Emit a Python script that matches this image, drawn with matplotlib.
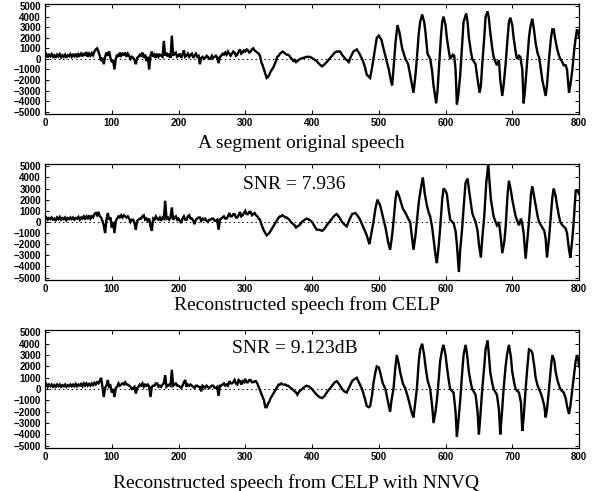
import numpy as np
import matplotlib.pyplot as plt

# unvoiced part, one value every 2 samples from 0 to 378
orig_noisy = [
    300, 450, 150, 400, 250, 450, 200, 350, 100, 400, 250, 450, 150, 350, 200, 400, 100, 350, 250, 450,
    200, 400, 250, 500, 150, 450, 300, 500, 250, 550, 300, 650, 200, 500, 300, 550, 350, 700, 900, 1000,
    700, 300, -200, 100, -500, 200, 600, 300, 700, 100, -300, -100, -1000, 0, 400, 200, 600, 300, 500, 400,
    600, 200, 500, 300, 0, 200, 100, -100, -500, 100, 200, 400, 300, 600, 100, 400, -200, 200, -1000, 300,
    700, 200, 400, 100, 500, 200, 400, 300, 200, 1700, 300, 600, 200, 500, 100, 2200, 300, 500, 600, 200,
    300, 500, 100, 400, 800, 200, 300, 500, 200, 400, 500, 100, 300, 500, 200, 300, -500, 100, 200, 0,
    100, 300, 200, 0, 0, 300, 100, 200, 300, 100, -400, 200, 300, 500, 400, 600, 400, 700, 500, 300,
    500, 700, 600, 300, 400, 700, 900, 500, 600, 800, 700, 900, 800, 600, 700, 900, 1000, 800, 700, 600,
    500, 300, -300, -600, -1000, -1400, -1800, -1700, -1500, -1200, -1000, -800, -500, -200, 200, 300, 500, 600, 700, 600,
    500, 400, 400, 300, 100, 0, -200, -100, -300, -200,
]
celp_noisy = [
    300, 400, 200, 350, 250, 400, 200, 300, 150, 400, 250, 450, 200, 350, 250, 400, 150, 350, 250, 400,
    250, 400, 200, 350, 300, 450, 200, 400, 300, 500, 300, 500, 250, 600, 300, 500, 400, 700, 800, 600,
    900, 500, 400, 100, -300, -1000, 200, 800, 200, 400, -500, 0, -1000, 100, 300, 500, 400, 600, 400, 600,
    500, 400, 500, 300, 0, 200, 200, -100, -700, 100, 200, 300, 300, 500, 600, 200, 300, 100, 300, -400,
    -800, 300, 200, 500, 300, 200, 400, 100, 400, 300, 1900, 300, 400, 200, 400, 1300, 200, 400, 500, 200,
    300, 100, -100, 300, 500, 200, 200, 500, 600, 300, 300, 100, -200, 200, 300, 400, 400, 100, 300, 200,
    300, 100, 0, 200, 200, 300, 300, 100, 100, 200, -700, 200, 300, 400, 500, 300, 300, 500, 800, 500,
    500, 700, 700, 400, 400, 600, 900, 500, 600, 800, 1000, 700, 700, 900, 900, 600, 700, 800, 600, 500,
    300, 200, -200, -500, -800, -1000, -1200, -1100, -1000, -800, -600, -400, -200, 0, 200, 400, 500, 500, 600, 500,
    400, 400, 300, 200, 0, -100, -200, -300, -500, -400,
]
nnvq_noisy = [
    300, 450, 200, 400, 250, 400, 200, 350, 200, 400, 250, 400, 200, 350, 250, 400, 200, 350, 250, 400,
    250, 400, 250, 450, 250, 400, 300, 450, 250, 500, 300, 500, 300, 450, 300, 500, 350, 550, 400, 600,
    500, 700, 1000, 200, -700, 100, 300, 800, 200, 300, -300, 0, -700, 100, 200, 500, 300, 400, 500, 400,
    600, 400, 400, 300, 200, 0, 100, 200, -400, 100, 200, 400, 300, 500, 200, 400, 300, 400, 200, -700,
    200, 300, 300, 500, 500, 200, 300, 200, 400, 500, 1200, 200, 300, 400, 300, 1700, 300, 400, 500, 300,
    300, 200, 100, 300, 600, 800, 200, 400, 300, 400, 300, 200, 100, 300, 300, 200, 200, -200, 300, 200,
    100, 300, 200, 100, 200, 300, 300, 100, 100, 200, -600, 300, 300, 400, 500, 300, 400, 300, 700, 500,
    500, 600, 800, 500, 400, 800, 700, 400, 700, 600, 900, 600, 600, 800, 800, 600, 600, 700, 700, 500,
    200, -100, -400, -700, -1000, -1600, -1600, -1300, -1100, -800, -600, -400, -200, 0, 200, 400, 400, 500, 400, 400,
    400, 300, 300, 200, 100, 0, -100, -200, -300, -500,
]

# voiced part, (sample, amplitude) read at the turning points
orig_voiced = [
    (382, 0), (387, 100), (392, 200),
    (397, 200), (402, 0), (407, -200), (411, -500), (415, -700), (419, -500), (422, -300), (426, 0), (430, 300),
    (434, 600), (437, 700), (442, 700), (446, 300), (450, 0), (455, -300), (458, 200), (462, 700), (467, 900),
    (471, 500), (475, 0), (479, -700), (482, -1500), (487, -1800), (490, -800), (492, 0), (495, 1200), (497, 2000),
    (500, 2200), (504, 1800), (507, 1000), (511, 0), (515, -1000), (518, -2000), (520, -2500), (522, -1000),
    (525, 1500), (528, 3200), (531, 2500), (535, 1000), (540, 0), (544, -500), (547, -1500), (552, -3200),
    (555, -1500), (557, 0), (560, 2500), (562, 3500), (565, 4200), (568, 3500), (570, 2500), (573, 500), (577, 0),
    (580, -1200), (582, -2500), (586, -4200), (588, -3000), (590, -1000), (593, 2000), (595, 3500), (597, 4000),
    (600, 3200), (602, 2000), (605, 700), (607, 0), (611, 400), (613, 300), (615, -1000), (617, -4300),
    (619, -3500), (622, -1500), (625, 1500), (627, 3500), (631, 4300), (633, 3500), (635, 2000), (638, 700),
    (640, 0), (643, -300), (645, -500), (647, -1500), (651, -3200), (653, -2500), (655, -500), (658, 2000),
    (660, 4000), (663, 4500), (665, 3800), (667, 2500), (670, 1000), (672, 200), (675, -300), (677, -600),
    (680, -100), (682, -2000), (685, -3500), (687, -2500), (690, -500), (693, 2000), (695, 3500), (697, 3900),
    (700, 3200), (702, 2000), (705, 700), (707, 0), (710, 300), (712, 200), (715, -1000), (717, -4200),
    (719, -3000), (722, -500), (725, 2000), (727, 3000), (730, 3800), (732, 3000), (735, 1500), (738, 500),
    (740, 200), (742, -600), (745, -2000), (750, -3500), (752, -2500), (755, 0), (758, 2000), (760, 2800),
    (762, 2800), (764, 2000), (767, 1000), (770, 300), (772, 0), (775, -300), (777, -600), (780, -600),
    (782, -1000), (785, -3200), (787, -2500), (790, -1000), (793, 1000), (795, 2000), (797, 2800), (799, 2500),
    (800, 2000),
]
celp_voiced = [
    (381, -300), (385, 0), (389, 200), (392, 300), (396, 200), (400, 0), (404, -400), (407, -700), (411, -700),
    (415, -800), (419, -600), (422, -300), (426, 0), (430, 300), (434, 600), (437, 700), (441, 400), (445, 0),
    (448, -200), (452, -400), (456, 200), (460, 700), (465, 800), (469, 500), (472, 200), (477, -500),
    (482, -1200), (486, -2000), (489, -1000), (492, 0), (495, 1200), (498, 2000), (502, 1500), (506, 500),
    (510, -500), (514, -1800), (517, -2500), (520, -1200), (522, 0), (525, 2000), (527, 2800), (530, 2400),
    (532, 2000), (536, 1200), (540, 800), (544, 300), (547, 0), (550, -1500), (552, -2500), (555, -1200),
    (557, 0), (560, 1800), (563, 3000), (566, 4000), (569, 2500), (572, 1500), (575, 800), (577, 500),
    (580, -500), (582, -1500), (585, -3000), (587, -3700), (590, -2000), (592, -500), (595, 2000), (597, 3000),
    (600, 2800), (602, 2500), (605, 1000), (607, 200), (610, 0), (612, -100), (615, -800), (617, -2000),
    (620, -4500), (622, -2500), (625, -500), (628, 2000), (630, 3500), (633, 3900), (636, 2500), (640, 800),
    (643, 300), (645, 0), (648, -800), (650, -2000), (653, -3200), (655, -1500), (658, 500), (661, 3500),
    (664, 5200), (666, 3500), (668, 2000), (672, 500), (675, 0), (677, -300), (680, 0), (683, -1500),
    (685, -2800), (688, -1800), (690, -500), (693, 2500), (695, 3700), (698, 2800), (700, 2000), (705, 500),
    (708, 0), (710, -300), (713, 300), (715, -200), (717, -1000), (720, -3300), (722, -2000), (725, 0),
    (728, 2500), (730, 3200), (733, 2200), (735, 1500), (738, 500), (740, 0), (745, -500), (748, -800),
    (750, -1500), (752, -3200), (755, -1500), (757, 0), (760, 2200), (762, 3000), (765, 2300), (767, 1500),
    (770, 500), (772, 0), (775, -300), (777, -400), (780, -600), (782, -1000), (785, -2500), (787, -3200),
    (790, -1500), (792, 0), (795, 2800), (798, 2800), (800, 2500),
]
nnvq_voiced = [
    (381, -200), (385, 0), (389, 200), (392, 300), (396, 200), (400, 0), (404, -300), (407, -500), (411, -700),
    (415, -800), (419, -600), (422, -300), (426, 0), (430, 300), (434, 600), (437, 700), (441, 400), (445, 0),
    (448, -200), (452, -300), (456, 200), (460, 700), (464, 900), (467, 1000), (471, 500), (475, 0),
    (479, -800), (482, -1500), (485, -1600), (487, -1500), (490, -500), (492, 500), (495, 1500), (497, 2000),
    (500, 1900), (502, 1500), (506, 500), (510, 0), (514, -1200), (517, -2000), (519, -1000), (522, 0),
    (525, 2000), (527, 3000), (530, 2200), (532, 1500), (536, 500), (540, 0), (544, -800), (547, -1500),
    (550, -2200), (552, -2500), (554, -1500), (557, 0), (560, 2500), (562, 3500), (565, 4000), (568, 3000),
    (570, 2000), (573, 800), (577, 0), (580, -1500), (582, -3000), (585, -2000), (587, -1000), (590, 1000),
    (592, 2500), (595, 3500), (597, 3900), (600, 3000), (602, 2000), (605, 700), (607, 0), (610, -200),
    (612, -300), (615, -2000), (617, -4200), (619, -3000), (622, -1000), (625, 1500), (627, 3000), (630, 3900),
    (632, 3200), (635, 1500), (638, 500), (640, 0), (643, -300), (645, -500), (648, -2000), (650, -4000),
    (652, -2500), (655, 0), (658, 2000), (660, 3500), (663, 4300), (665, 3000), (667, 1500), (670, 500),
    (672, 0), (675, -300), (677, -500), (680, -1800), (682, -4000), (684, -2500), (687, 0), (690, 2000),
    (692, 3000), (695, 3900), (698, 2800), (700, 1500), (703, 500), (705, 0), (708, -200), (710, -300),
    (713, -1200), (715, -3700), (717, -2500), (720, 0), (722, 1500), (725, 3500), (728, 3400), (730, 3200),
    (733, 2000), (735, 1000), (738, 300), (740, 0), (743, -400), (745, -800), (748, -1500), (750, -2500),
    (752, -1800), (755, 0), (758, 2000), (760, 3000), (763, 2500), (765, 1500), (768, 700), (772, 0),
    (775, -200), (777, -300), (780, -800), (782, -1500), (785, -2200), (787, -1500), (790, 0), (793, 1500),
    (795, 2500), (797, 3000), (799, 2500), (800, 2000),
]

captions = ["A segment original speech",
            "Reconstructed speech from CELP",
            "Reconstructed speech from CELP with NNVQ"]
snr_texts = [None, "SNR = 7.936", "SNR = 9.123dB"]
x_ticks = list(range(0, 801, 100))
y_ticks = list(range(-5000, 5001, 1000))

fig = plt.figure(figsize=(5.94, 4.91), dpi=100)

rects = [[0.0758, 0.768, 0.899, 0.224],
         [0.0758, 0.430, 0.899, 0.236],
         [0.0758, 0.0876, 0.899, 0.240]]
cap_pos = [(0.508, 0.707), (0.517, 0.379), (0.498, 0.017)]
snr_pos = [None, (0.409, 0.625), (0.391, 0.291)]

series = [(orig_noisy, orig_voiced), (celp_noisy, celp_voiced), (nnvq_noisy, nnvq_voiced)]
for i, (noisy, voiced) in enumerate(series):
    ax = fig.add_axes(rects[i])
    vx, vy = np.array(voiced).T
    xs = np.concatenate([np.arange(len(noisy)) * 2, vx])
    ys = np.concatenate([noisy, vy])
    ax.axhline(0, color='black', lw=0.7, ls=(0, (1.5, 3)))
    ax.plot(xs, ys, color='black', lw=1.7, solid_joinstyle='miter')
    ax.set_xlim(0, 800)
    ax.set_ylim(-5200, 5200)
    ax.set_xticks(x_ticks)
    ax.set_yticks(y_ticks)
    ax.tick_params(direction='in', length=3, width=0.7, top=True, right=True,
                   labelsize=7, pad=3)
    for lab in ax.get_xticklabels() + ax.get_yticklabels():
        lab.set_fontfamily('Liberation Sans')
        lab.set_fontweight('bold')
    for sp in ax.spines.values():
        sp.set_linewidth(0.9)
    fig.text(cap_pos[i][0], cap_pos[i][1], captions[i], ha='center', va='center',
             family='Liberation Serif', fontsize=14)
    if snr_texts[i]:
        fig.text(snr_pos[i][0], snr_pos[i][1], snr_texts[i], ha='left', va='center',
                 family='Liberation Serif', fontsize=14)

plt.savefig("out.png", dpi=100)
